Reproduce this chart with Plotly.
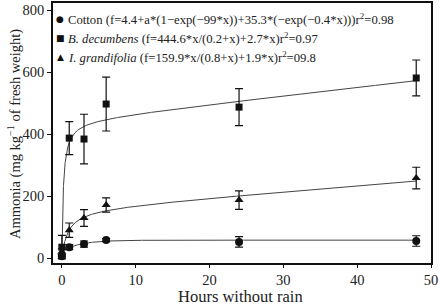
import numpy as np
import plotly.graph_objects as go

# Observed data
hours = [0, 1, 3, 6, 24, 48]
cotton = [6, 35, 45, 58, 52, 55]
cotton_err = [6, 8, 10, 5, 17, 17]
decumbens = [35, 387, 384, 497, 487, 581]
decumbens_err = [38, 53, 80, 87, 60, 58]
grandifolia = [20, 90, 129, 171, 187, 258]
grandifolia_err = [10, 23, 27, 23, 30, 35]

# Fit parameters as printed in the legend
cot_c, cot_a, cot_b, cot_k1, cot_k2 = 4.4, 18.0, 35.3, 99.0, 0.4
dec_a, dec_k, dec_s = 444.6, 0.2, 2.7
gra_a, gra_k, gra_s = 159.9, 0.8, 1.9

xf = np.concatenate([np.linspace(0, 2, 400), np.linspace(2, 48, 300)])
fit_cot = cot_c + cot_a * (1 - np.exp(-cot_k1 * xf)) + cot_b * (1 - np.exp(-cot_k2 * xf))
fit_dec = dec_a * xf / (dec_k + xf) + dec_s * xf
fit_gra = gra_a * xf / (gra_k + xf) + gra_s * xf

FONT = "Liberation Serif"
INK = "#222"

W, H = 440, 305
L, R, T, B = 53, 9, 3, 42
pw, ph = W - L - R, H - T - B

fig = go.Figure()
for y in (fit_cot, fit_dec, fit_gra):
    fig.add_trace(go.Scatter(x=xf, y=y, mode="lines", line=dict(color="#444", width=1),
                             showlegend=False, hoverinfo="skip"))

def pts(y, err, sym, size):
    return go.Scatter(x=hours, y=y, mode="markers",
                      marker=dict(symbol=sym, size=size, color="#111"),
                      error_y=dict(type="data", array=err, color="#111", thickness=1.2, width=4),
                      showlegend=False)

fig.add_trace(pts(cotton, cotton_err, "circle", 8))
fig.add_trace(pts(decumbens, decumbens_err, "square", 7))
fig.add_trace(pts(grandifolia, grandifolia_err, "triangle-up", 8))

legend_rows = [
    ("●", "Cotton (f=4.4+a*(1−exp(−99*x))+35.3*(−exp(−0.4*x)))r<sup>2</sup>=0.98"),
    ("■", "<i>B. decumbens</i> (f=444.6*x/(0.2+x)+2.7*x)r<sup>2</sup>=0.97"),
    ("▲", "<i>I. grandifolia</i> (f=159.9*x/(0.8+x)+1.9*x)r<sup>2</sup>=09.8"),
]

def px(xp):
    return (xp - L) / pw

def py(yp):
    return (H - yp - B) / ph

for i, (sym, txt) in enumerate(legend_rows):
    yy = 19 + i * 19
    fig.add_annotation(x=px(60), y=py(yy), xref="paper", yref="paper", text=sym,
                       showarrow=False, font=dict(family="DejaVu Sans", size=9, color="#111"),
                       xanchor="center", yanchor="middle")
    fig.add_annotation(x=px(66), y=py(yy), xref="paper", yref="paper", text=txt,
                       showarrow=False, font=dict(family=FONT, size=12.7, color=INK),
                       xanchor="left", yanchor="middle")

fig.add_annotation(x=px(240), y=py(296), xref="paper", yref="paper",
                   text="Hours without rain", showarrow=False,
                   font=dict(family=FONT, size=16.5, color=INK), xanchor="center", yanchor="middle")
fig.add_annotation(x=px(14), y=py(134), xref="paper", yref="paper",
                   text="Ammonia (mg kg<sup>−1</sup> of fresh weight)", showarrow=False, textangle=-90,
                   font=dict(family=FONT, size=14.5, color=INK), xanchor="center", yanchor="middle")

fig.update_layout(
    width=W, height=H,
    margin=dict(l=L, r=R, t=T, b=B, autoexpand=False),
    plot_bgcolor="white", paper_bgcolor="white",
    font=dict(family=FONT, color=INK, size=14.5),
    xaxis=dict(range=[-1.2, 50], tickvals=[0, 10, 20, 30, 40, 50], showgrid=False,
               zeroline=False, showline=True, linecolor="#111", linewidth=1.5, mirror=True,
               ticks="outside", ticklen=3, tickcolor="#111", automargin=False),
    yaxis=dict(range=[-16, 823], tickvals=[0, 200, 400, 600, 800], showgrid=False,
               zeroline=False, showline=True, linecolor="#111", linewidth=1.5, mirror=True,
               ticks="outside", ticklen=4, tickcolor="#111", automargin=False),
)

fig.write_html("out.html", config={"displayModeBar": False},
               post_script="document.body.style.margin='0';document.body.style.overflow='hidden';")
